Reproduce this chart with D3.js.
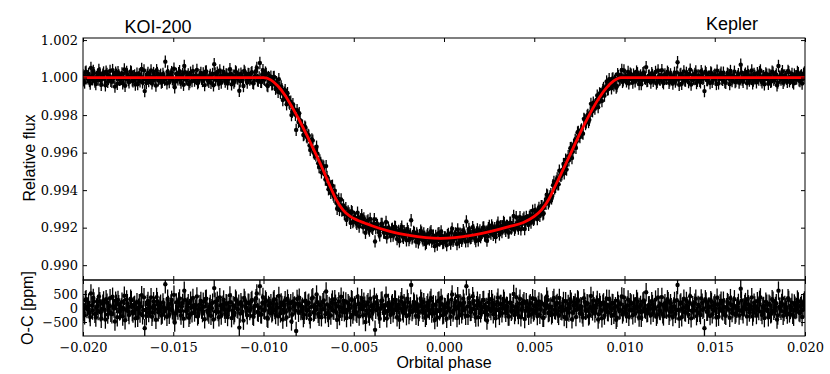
<!DOCTYPE html>
<html>
<head>
<meta charset="utf-8">
<script src="https://cdn.jsdelivr.net/npm/d3@7"></script>
<style>
  body { margin: 0; background: #fff; }
  .sans { font-family: "Liberation Sans", Arial, sans-serif; }
</style>
</head>
<body>
<div id="chart"></div>
<script>
// orbital phase of each cadence, in units of 1e-5 (first set of transits)
var phase5 = [
  -2000,-1991,-1983,-1974,-1964,-1956,-1947,-1939,-1929,-1920,-1912,-1903,-1894,-1886,-1876,
  -1867,-1859,-1850,-1840,-1832,-1823,-1815,-1806,-1797,-1788,-1780,-1771,-1762,-1754,-1745,
  -1736,-1727,-1719,-1710,-1701,-1692,-1684,-1675,-1666,-1658,-1649,-1640,-1631,-1623,-1614,
  -1605,-1596,-1588,-1579,-1570,-1561,-1553,-1544,-1535,-1527,-1518,-1509,-1500,-1492,-1483,
  -1474,-1465,-1457,-1448,-1439,-1430,-1422,-1413,-1404,-1396,-1387,-1378,-1369,-1361,-1352,
  -1343,-1334,-1326,-1317,-1308,-1299,-1291,-1282,-1273,-1265,-1256,-1247,-1238,-1230,-1221,
  -1212,-1203,-1195,-1186,-1177,-1168,-1160,-1151,-1142,-1134,-1125,-1116,-1107,-1099,-1090,
  -1081,-1072,-1064,-1055,-1046,-1037,-1029,-1020,-1011,-1003,-994,-985,-976,-968,-959,
  -950,-941,-933,-924,-915,-906,-898,-889,-880,-872,-863,-854,-845,-837,-828,
  -819,-810,-802,-793,-784,-775,-767,-758,-749,-741,-732,-723,-714,-706,-697,
  -688,-679,-671,-662,-653,-644,-636,-627,-618,-610,-601,-592,-583,-575,-566,
  -557,-548,-540,-531,-522,-513,-505,-496,-487,-479,-470,-461,-452,-444,-435,
  -426,-417,-409,-400,-391,-382,-374,-365,-356,-348,-339,-330,-321,-313,-304,
  -295,-286,-278,-269,-260,-251,-243,-234,-225,-217,-208,-199,-190,-182,-173,
  -164,-155,-147,-138,-129,-120,-112,-103,-94,-86,-77,-68,-59,-51,-42,
  -33,-24,-16,-7,2,11,19,28,37,45,54,63,72,80,89,
  98,107,115,124,133,142,150,159,168,176,185,194,203,211,220,
  229,238,246,255,264,273,281,290,299,307,316,325,334,342,351,
  360,369,377,386,395,404,412,421,430,438,447,456,465,473,482,
  491,500,508,517,526,535,543,552,561,569,578,587,596,604,613,
  622,631,639,648,657,666,674,683,692,700,709,718,727,735,744,
  753,762,770,779,788,797,805,814,823,831,840,849,858,866,875,
  884,893,901,910,919,928,936,945,954,962,971,980,989,997,1006,
  1015,1024,1032,1041,1050,1059,1067,1076,1085,1093,1102,1111,1120,1128,1137,
  1146,1155,1163,1172,1181,1190,1198,1207,1216,1224,1233,1242,1251,1259,1268,
  1277,1286,1294,1303,1312,1321,1329,1338,1347,1355,1364,1373,1382,1390,1399,
  1408,1417,1425,1434,1443,1452,1460,1469,1478,1486,1495,1504,1513,1521,1530,
  1539,1548,1556,1565,1574,1583,1591,1600,1609,1617,1626,1635,1644,1652,1661,
  1670,1679,1687,1696,1705,1714,1722,1731,1740,1748,1757,1766,1775,1783,1792,
  1801,1810,1818,1827,1836,1845,1853,1862,1871,1879,1888,1897,1906,1914,1923,
  1932,1941,1949,1958,1967,1976,1984,1992,2000
];

// observed minus computed, ppm (first set)
var ocPpm = [
  120,-260,310,45,-180,520,-90,230,-340,80,410,-150,-30,270,-410,
  190,-70,350,-220,60,-480,150,290,-120,20,-300,440,-60,170,-250,
  330,-140,80,-370,210,10,-200,460,-80,-720,-290,250,-20,380,-160,
  70,-420,240,-60,150,-230,30,850,-310,110,-40,290,-180,-520,200,
  -90,340,-270,180,620,-110,50,-350,260,-190,90,-30,410,-240,130,
  -60,220,-400,330,-150,40,-280,190,710,-120,260,-330,80,-20,300,
  -210,150,-70,450,-360,100,-180,270,-50,-700,210,-130,360,30,-260,
  180,-40,290,-310,80,520,-170,780,-230,390,-90,240,-380,60,170,
  -140,310,-250,20,430,-190,110,-60,280,-340,170,-20,-480,230,90,
  -820,150,370,-110,40,-240,260,-70,190,-400,340,-160,60,480,-210,
  120,-330,210,-50,590,-180,70,-270,300,-100,150,-420,230,20,-130,
  260,-80,-360,170,-20,310,-230,90,-150,400,-300,110,-40,220,-500,
  140,-210,330,-90,60,-780,190,-10,-380,250,80,-160,440,-120,30,
  -240,170,-60,290,-330,120,-20,380,-190,70,-290,210,-110,820,-70,
  160,-280,50,-140,330,-60,210,-350,100,-30,270,-200,130,-430,-80,
  240,-120,360,-260,40,-170,150,-20,-310,480,-90,220,-360,60,170,
  -220,330,-50,780,-280,190,-130,420,-40,-340,260,80,-190,30,290,
  -100,-450,200,-30,310,-220,120,-60,370,-280,140,-10,250,-170,60,
  -300,180,-80,500,-140,40,-250,330,-60,160,-390,210,-20,120,-230,
  350,-110,70,-290,230,-40,150,-350,90,410,-180,20,-260,280,-70,
  130,-210,360,-100,50,-320,240,-20,-160,310,-400,100,190,-60,270,
  -190,40,-340,220,-80,150,-260,430,-120,60,-30,290,-220,110,-370,
  200,-50,330,-150,80,-280,170,-10,-420,260,-90,140,-230,380,-40,
  90,-310,210,-70,160,-200,320,-120,40,-350,230,-20,560,-170,100,
  -260,140,-40,300,-230,60,-110,390,-300,170,-60,240,-140,30,-320,
  250,-90,820,-380,200,-30,330,-160,70,-240,420,-100,-50,190,-290,
  110,-170,340,-60,-720,230,-130,50,280,-220,90,-20,370,-310,160,
  -80,260,-240,30,170,-350,120,-40,310,-190,60,-270,690,-110,20,
  210,-300,130,-50,380,-160,90,-250,-30,290,-130,40,-360,220,-70,
  150,-220,310,-100,70,-410,620,-30,180,-280,110,-60,350,-190,40,
  -240,160,-70,300,-150,60,-320,200,-20
];

// second set of transits
var phase5b = [
  -1996,-1987,-1978,-1969,-1960,-1951,-1943,-1934,-1925,-1916,-1907,-1899,-1890,-1881,-1872,
  -1863,-1855,-1846,-1836,-1828,-1819,-1810,-1802,-1793,-1784,-1775,-1767,-1758,-1749,-1740,
  -1732,-1723,-1714,-1705,-1697,-1688,-1679,-1670,-1662,-1653,-1644,-1636,-1627,-1618,-1609,
  -1600,-1592,-1583,-1574,-1566,-1557,-1548,-1539,-1531,-1522,-1513,-1505,-1496,-1487,-1478,
  -1470,-1461,-1452,-1443,-1435,-1426,-1417,-1408,-1400,-1391,-1382,-1373,-1365,-1356,-1347,
  -1338,-1330,-1321,-1312,-1303,-1295,-1286,-1277,-1268,-1260,-1251,-1242,-1234,-1225,-1216,
  -1207,-1199,-1190,-1181,-1172,-1164,-1155,-1146,-1137,-1129,-1120,-1111,-1103,-1094,-1085,
  -1076,-1068,-1059,-1050,-1041,-1033,-1024,-1015,-1007,-998,-989,-980,-972,-963,-954,
  -945,-937,-928,-919,-910,-902,-893,-884,-876,-867,-858,-849,-841,-832,-823,
  -814,-806,-797,-788,-779,-771,-762,-753,-745,-736,-727,-718,-710,-701,-692,
  -683,-675,-666,-657,-648,-640,-631,-622,-614,-605,-596,-587,-579,-570,-561,
  -552,-544,-535,-526,-517,-509,-500,-491,-483,-474,-465,-456,-448,-439,-430,
  -421,-413,-404,-395,-386,-378,-369,-360,-352,-343,-334,-325,-317,-308,-299,
  -290,-282,-273,-264,-255,-247,-238,-229,-221,-212,-203,-194,-186,-177,-168,
  -159,-151,-142,-133,-124,-116,-107,-98,-90,-81,-72,-63,-55,-46,-37,
  -28,-20,-11,-2,7,15,24,33,41,50,59,68,76,85,94,
  103,111,120,129,138,146,155,164,172,181,190,199,207,216,225,
  234,242,251,260,269,277,286,295,303,312,321,330,338,347,356,
  365,373,382,391,400,408,417,426,434,443,452,461,469,478,487,
  496,504,513,522,531,539,548,557,565,574,583,592,600,609,618,
  627,635,644,653,662,670,679,688,696,705,714,723,731,740,749,
  758,766,775,784,793,801,810,819,827,836,845,854,862,871,880,
  889,897,906,915,924,932,941,950,958,967,976,985,993,1002,1011,
  1020,1028,1037,1046,1055,1063,1072,1081,1089,1098,1107,1116,1124,1133,1142,
  1151,1159,1168,1177,1186,1194,1203,1212,1220,1229,1238,1247,1255,1264,1273,
  1282,1290,1299,1308,1317,1325,1334,1343,1351,1360,1369,1378,1386,1395,1404,
  1413,1421,1430,1439,1448,1456,1465,1474,1482,1491,1500,1509,1517,1526,1535,
  1544,1552,1561,1570,1579,1587,1596,1605,1613,1622,1631,1640,1648,1657,1666,
  1675,1683,1692,1701,1710,1718,1727,1736,1744,1753,1762,1771,1779,1788,1797,
  1806,1814,1823,1832,1841,1849,1858,1867,1875,1884,1893,1902,1910,1919,1928,
  1937,1945,1954,1963,1972,1980,1989,1997
];

var ocPpmB = [
  -150,280,-40,190,-320,90,360,-210,20,-110,240,-380,150,-60,310,
  -230,70,-170,400,-20,260,-330,130,-90,220,-10,-440,300,-130,50,
  280,-200,110,-30,-350,170,60,-260,380,-70,140,-180,30,-310,240,
  -40,390,-150,80,-270,200,-110,-20,330,-240,160,-80,470,-200,10,
  230,-120,60,-380,290,-50,170,-240,30,360,-160,100,-300,-20,250,
  -180,50,310,-90,-230,140,-10,-410,220,70,-140,380,-270,120,-60,
  170,-320,40,210,-100,-260,330,-30,150,-200,90,-450,270,-70,190,
  -110,240,-280,60,350,-140,10,-220,180,-60,300,-350,110,-10,-190,
  260,-70,140,-300,30,200,-410,90,-130,330,-30,170,-240,60,-90,
  320,-170,80,-20,-360,240,-100,150,-250,40,380,-130,-60,210,-310,
  90,-40,270,-220,130,-350,20,190,-80,310,-170,60,-290,400,-10,
  -150,230,-60,110,-330,280,-120,40,-210,160,-20,350,-260,80,-100,
  210,-300,70,-140,390,-60,130,-230,-30,270,-160,90,-370,180,-50,
  120,-190,300,-80,20,-420,240,-120,170,-20,330,-250,60,-140,220,
  -60,150,-310,80,240,-170,40,-280,190,-90,360,-30,-200,110,-340,
  270,-50,140,-230,30,-380,210,-100,300,-160,60,-20,420,-270,120,
  -90,190,-280,50,360,-140,-30,250,-210,100,-330,170,-60,280,-150,
  40,-240,310,-110,180,-20,-370,220,-80,140,-190,330,-40,80,-300,
  200,-130,60,-250,390,-70,150,-330,20,240,-100,-10,-280,170,-50,
  -160,310,-40,110,-240,200,-350,80,-20,290,-150,50,-210,360,-90,
  180,-280,30,-120,250,-60,-390,140,-10,220,-170,90,-320,310,-40,
  60,-220,350,-100,170,-300,40,-30,270,-190,120,-410,200,-80,150,
  -270,90,-140,320,-20,180,-240,60,-350,140,-70,410,-150,30,-200,
  300,-80,160,-260,50,-20,230,-340,110,-130,270,-60,-190,90,-30,
  240,-170,20,-310,380,-90,130,-220,60,-40,310,-280,170,-110,50,
  -210,280,-60,150,-330,20,-140,250,-30,190,-370,100,-80,330,-170,
  70,-250,190,-20,310,-130,40,-290,220,-70,160,-340,120,-10,260,
  -120,30,-280,210,-50,350,-180,90,-240,-30,180,-90,270,-220,140,
  -40,320,-160,60,-300,190,-20,240,-110,380,-250,70,-60,150,-330,
  110,-190,260,-30,170,-270,50,-100,340,-140,20,-230,290,-70,190,
  -310,80,-40,230,-180,120,-60,270
];
var errPpm = 330;

// transit model
var modelPhase = [-0.0200,-0.0100,-0.0096,-0.0092,-0.0088,-0.0084,-0.0080,-0.0076,-0.0072,-0.0068,
  -0.0064,-0.0060,-0.0056,-0.0052,-0.0048,-0.0044,-0.0040,-0.0030,-0.0020,-0.0010,-0.0002,
  0.0006,0.0016,0.0026,0.0036,0.0044,0.0050,0.0054,0.0058,0.0062,0.0066,0.0070,0.0074,
  0.0078,0.0082,0.0086,0.0090,0.0094,0.0098,0.0200];
var modelFlux = [1.00000,1.00000,0.99988,0.99955,0.99905,0.99840,0.99770,0.99693,0.99612,0.99530,
  0.99440,0.99355,0.99295,0.99260,0.99240,0.99225,0.99210,0.99180,0.99160,0.99147,0.99143,
  0.99147,0.99160,0.99180,0.99205,0.99228,0.99260,0.99295,0.99350,0.99430,0.99510,0.99592,0.99676,
  0.99755,0.99828,0.99893,0.99945,0.99982,1.00000,1.00000];

var phaseTicks = [-0.020,-0.015,-0.010,-0.005,0.000,0.005,0.010,0.015,0.020];
var fluxTicks = [0.990,0.992,0.994,0.996,0.998,1.000,1.002];
var ocTicks = [-500,0,500];

var svgWidth = 830, svgHeight = 374;
var margin = {left: 83, top: 38};
var width = 722, topHeight = 242, botHeight = 56;

var svg = d3.select("#chart").append("svg")
  .attr("width", svgWidth)
  .attr("height", svgHeight);

var x = d3.scaleLinear().domain([-0.02, 0.02]).range([0, width]);
var yFlux = d3.scaleLinear().domain([0.98921, 1.00211]).range([topHeight, 0]);
var yOc = d3.scaleLinear().domain([-1000, 1000]).range([botHeight, 0]);
var modelAt = d3.scaleLinear().domain(modelPhase).range(modelFlux);

// observed flux = model + O-C
var points = d3.zip(phase5, ocPpm).concat(d3.zip(phase5b, ocPpmB)).map(function(d) {
  var p = d[0] * 1e-5;
  return {phase: p, oc: d[1], flux: modelAt(p) + d[1] * 1e-6};
});

var serif = '"DejaVu Serif", serif';

function styleTicks(g) {
  g.select(".domain").remove();
  g.selectAll(".tick line").attr("stroke", "#000").attr("stroke-width", 1);
  g.selectAll(".tick text").style("font-family", serif).style("font-size", "13px").attr("fill", "#000");
}

function drawPanel(top, h, yScale, yTicks, yFmt, yVal, yErr, showX) {
  var g = svg.append("g").attr("transform", `translate(${margin.left}, ${top})`);
  var clipId = "clip" + top;
  g.append("clipPath").attr("id", clipId).append("rect").attr("width", width).attr("height", h);

  var pts = g.append("g").attr("clip-path", `url(#${clipId})`);
  var pg = pts.selectAll("g.pt").data(points).enter().append("g").attr("class", "pt");
  pg.append("line")
    .attr("x1", d => x(d.phase)).attr("x2", d => x(d.phase))
    .attr("y1", d => yScale(yVal(d) - yErr)).attr("y2", d => yScale(yVal(d) + yErr))
    .attr("stroke", "#000").attr("stroke-width", 1.3);
  pg.append("circle")
    .attr("cx", d => x(d.phase)).attr("cy", d => yScale(yVal(d)))
    .attr("r", 2.2).attr("fill", "#000");

  g.append("g").call(d3.axisLeft(yScale).tickValues(yTicks).tickFormat(yFmt)
    .tickSizeInner(-4).tickSizeOuter(0).tickPadding(5)).call(styleTicks);
  g.append("g").attr("transform", `translate(${width},0)`)
    .call(d3.axisRight(yScale).tickValues(yTicks).tickFormat("")
    .tickSizeInner(-4).tickSizeOuter(0)).call(styleTicks);
  g.append("g").call(d3.axisTop(x).tickValues(phaseTicks).tickFormat("")
    .tickSizeInner(-4).tickSizeOuter(0)).call(styleTicks);
  g.append("g").attr("transform", `translate(0,${h})`)
    .call(d3.axisBottom(x).tickValues(phaseTicks).tickFormat(showX ? d3.format(".3f") : "")
    .tickSizeInner(-4).tickSizeOuter(0).tickPadding(7)).call(styleTicks);

  g.append("rect").attr("width", width).attr("height", h)
    .attr("fill", "none").attr("stroke", "#000").attr("stroke-width", 1);
  return {g: g, pts: pts};
}

var topPanel = drawPanel(margin.top, topHeight, yFlux, fluxTicks, d3.format(".3f"),
  d => d.flux, errPpm * 1e-6, false);

// red model curve
var line = d3.line()
  .x(d => x(d[0]))
  .y(d => yFlux(d[1]))
  .curve(d3.curveMonotoneX);
topPanel.pts.append("path")
  .datum(d3.zip(modelPhase, modelFlux))
  .attr("d", line)
  .attr("fill", "none")
  .attr("stroke", "#ff0000")
  .attr("stroke-width", 2.8);

drawPanel(margin.top + topHeight, botHeight, yOc, ocTicks, d3.format("d"),
  d => d.oc, errPpm, true);

// labels
svg.append("text").attr("class", "sans")
  .attr("x", 158).attr("y", 33).attr("text-anchor", "middle")
  .style("font-size", "18px").text("KOI-200");
svg.append("text").attr("class", "sans")
  .attr("x", 732).attr("y", 29.5).attr("text-anchor", "middle")
  .style("font-size", "18px").text("Kepler");
svg.append("text").attr("class", "sans")
  .attr("x", 444).attr("y", 368).attr("text-anchor", "middle")
  .style("font-size", "16px").text("Orbital phase");
svg.append("text").attr("class", "sans")
  .attr("transform", "translate(35,158) rotate(-90)")
  .attr("text-anchor", "middle")
  .style("font-size", "16px").text("Relative flux");
svg.append("text").attr("class", "sans")
  .attr("transform", "translate(32.5,308) rotate(-90)")
  .attr("text-anchor", "middle")
  .style("font-size", "16px").text("O-C [ppm]");
</script>
</body>
</html>
